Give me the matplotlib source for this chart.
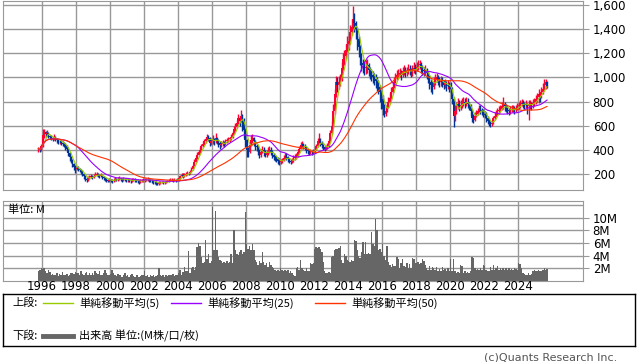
import matplotlib
matplotlib.use("Agg")
import matplotlib.pyplot as plt
import numpy as np
import pandas as pd

# monthly data, Oct 1995 .. Sep 2025
start_year, start_month = 1995, 10
first_open = 390

close = [
    410, 395, 430,
    520, 545, 530, 540, 515, 505, 495, 490, 505, 495, 480, 470,
    470, 460, 450, 440, 430, 405, 370, 340, 310, 280, 260, 240,
    250, 240, 230, 220, 200, 180, 160, 150, 165, 175, 180, 175,
    185, 195, 200, 190, 185, 190, 175, 165, 160, 150, 145, 150,
    145, 140, 150, 160, 155, 160, 165, 155, 150, 160, 155, 150,
    150, 145, 140, 150, 155, 150, 145, 140, 135, 140, 145, 150,
    150, 155, 160, 150, 145, 140, 135, 130, 125, 120, 125, 130,
    135, 130, 130, 135, 140, 145, 150, 150, 145, 150, 145, 150,
    165, 180, 195, 185, 190, 200, 210, 205, 220, 240, 270, 300,
    330, 360, 380, 400, 430, 450, 470, 490, 510, 500, 460, 470,
    480, 470, 500, 480, 460, 440, 450, 460, 450, 470, 480, 490,
    490, 510, 540, 570, 590, 620, 660, 640, 680, 650, 560, 480,
    400, 380, 440, 480, 500, 470, 430, 420, 400, 360, 380, 400,
    380, 360, 370, 390, 400, 380, 360, 340, 330, 320, 310, 300,
    300, 310, 330, 350, 340, 320, 310, 300, 310, 330, 340, 350,
    380, 410, 440, 450, 430, 420, 400, 390, 380, 390, 380, 390,
    400, 430, 470, 490, 460, 440, 420, 410, 420, 430, 470, 540,
    600, 720, 860, 960, 940, 960, 990, 1080, 1150, 1180, 1230, 1280,
    1300, 1380, 1420, 1480, 1450, 1400, 1320, 1250, 1180, 1120, 1100, 1080,
    1080, 1100, 1060, 1040, 1020, 1000, 990, 970, 950, 920, 880, 820,
    740, 700, 720, 760, 800, 830, 880, 920, 960, 1000, 1020, 1030,
    1040, 1020, 1050, 1060, 1040, 1050, 1070, 1060, 1040, 1060, 1080, 1070,
    1090, 1100, 1110, 1080, 1060, 1050, 1060, 1040, 1000, 960, 940, 920,
    960, 990, 1000, 980, 960, 970, 960, 940, 950, 930, 940, 920,
    900, 820, 680, 720, 760, 780, 760, 770, 790, 800, 790, 800,
    780, 760, 720, 660, 650, 680, 700, 720, 740, 730, 720, 700,
    690, 660, 640, 620, 610, 620, 660, 680, 700, 720, 730, 740,
    760, 780, 760, 740, 730, 720, 730, 740, 740, 730, 740, 760,
    770, 780, 790, 780, 770, 780, 760, 780, 780, 770, 790, 800,
    820, 840, 860, 850, 880, 900, 940, 960, 930,
]

high = [
    425, 420, 450,
    575, 570, 560, 565, 550, 525, 520, 510, 530, 515, 500, 490,
    490, 485, 475, 465, 455, 440, 410, 380, 350, 320, 290, 275,
    270, 265, 250, 245, 230, 210, 190, 175, 180, 195, 200, 195,
    200, 215, 220, 210, 200, 205, 195, 180, 175, 170, 160, 165,
    160, 155, 165, 175, 170, 175, 180, 170, 165, 175, 170, 165,
    165, 160, 155, 165, 170, 165, 160, 155, 150, 155, 160, 165,
    165, 170, 175, 165, 160, 155, 150, 145, 140, 135, 140, 145,
    145, 140, 140, 145, 150, 160, 165, 165, 160, 165, 160, 165,
    175, 195, 210, 205, 205, 215, 225, 220, 235, 255, 285, 320,
    345, 380, 400, 420, 450, 470, 490, 510, 535, 525, 505, 500,
    520, 500, 540, 510, 490, 470, 470, 480, 475, 490, 500, 510,
    510, 530, 560, 600, 620, 650, 700, 680, 730, 700, 660, 580,
    490, 420, 460, 520, 530, 510, 480, 450, 440, 410, 410, 430,
    420, 400, 395, 420, 430, 420, 395, 370, 360, 350, 340, 330,
    320, 335, 355, 375, 370, 350, 335, 325, 330, 355, 365, 375,
    400, 430, 465, 470, 460, 445, 425, 410, 400, 410, 400, 410,
    420, 450, 500, 540, 500, 470, 445, 430, 440, 455, 490, 565,
    640, 780, 900, 1010, 1000, 1010, 1030, 1130, 1200, 1230, 1280, 1340,
    1360, 1430, 1480, 1592, 1530, 1470, 1420, 1340, 1270, 1200, 1150, 1140,
    1140, 1150, 1120, 1090, 1070, 1050, 1040, 1030, 1000, 980, 940, 900,
    850, 780, 770, 800, 840, 870, 920, 960, 1000, 1040, 1060, 1070,
    1080, 1060, 1090, 1100, 1090, 1090, 1110, 1100, 1080, 1100, 1130, 1110,
    1130, 1140, 1145, 1130, 1100, 1090, 1100, 1080, 1050, 1020, 990, 970,
    1000, 1030, 1040, 1020, 1000, 1010, 1000, 980, 990, 970, 980, 960,
    960, 920, 840, 770, 800, 830, 810, 810, 830, 840, 830, 840,
    830, 800, 780, 740, 700, 710, 730, 750, 770, 770, 750, 740,
    720, 710, 680, 660, 640, 650, 680, 710, 730, 750, 760, 770,
    800, 840, 800, 780, 760, 750, 760, 770, 770, 760, 770, 790,
    800, 810, 820, 810, 800, 810, 790, 810, 810, 800, 820, 830,
    850, 870, 900, 880, 920, 950, 990, 990, 970,
]

low = [
    380, 385, 390,
    425, 500, 510, 515, 500, 490, 480, 470, 480, 475, 460, 450,
    450, 440, 430, 420, 400, 380, 350, 310, 290, 260, 230, 205,
    230, 225, 215, 200, 180, 160, 140, 130, 145, 155, 165, 160,
    170, 180, 185, 175, 170, 175, 160, 150, 145, 135, 130, 135,
    130, 125, 135, 145, 140, 145, 150, 140, 135, 145, 140, 135,
    135, 130, 125, 135, 140, 135, 130, 125, 120, 125, 130, 135,
    135, 140, 145, 135, 130, 125, 120, 115, 110, 108, 112, 118,
    122, 118, 120, 125, 130, 135, 140, 138, 135, 138, 135, 140,
    145, 160, 175, 170, 175, 185, 195, 190, 200, 215, 235, 265,
    295, 325, 355, 375, 395, 425, 440, 460, 480, 470, 430, 440,
    450, 440, 460, 450, 420, 410, 425, 435, 425, 440, 455, 465,
    465, 480, 500, 530, 555, 580, 610, 600, 630, 560, 500, 420,
    340, 340, 370, 430, 460, 430, 400, 390, 360, 330, 340, 370,
    350, 340, 340, 360, 375, 355, 330, 315, 305, 295, 285, 275,
    280, 290, 305, 325, 315, 300, 290, 285, 290, 300, 315, 320,
    340, 370, 400, 420, 410, 395, 375, 365, 355, 365, 360, 365,
    375, 395, 425, 460, 430, 415, 400, 390, 400, 410, 425, 465,
    530, 590, 700, 840, 880, 900, 930, 970, 1060, 1100, 1150, 1210,
    1230, 1280, 1350, 1400, 1380, 1320, 1230, 1170, 1100, 1050, 1040, 1020,
    1030, 1040, 1010, 990, 970, 950, 940, 910, 890, 860, 800, 740,
    690, 670, 680, 710, 750, 790, 820, 870, 910, 950, 980, 990,
    1000, 980, 1000, 1020, 1000, 1010, 1030, 1020, 1000, 1010, 1040, 1030,
    1050, 1060, 1070, 1040, 1020, 1010, 1020, 990, 950, 900, 880, 860,
    900, 940, 960, 940, 920, 930, 920, 900, 910, 890, 900, 880,
    870, 780, 590, 640, 700, 740, 720, 730, 750, 760, 750, 760,
    750, 730, 680, 630, 625, 640, 670, 690, 710, 700, 690, 670,
    660, 630, 610, 595, 590, 595, 615, 650, 670, 690, 700, 710,
    730, 740, 720, 710, 700, 690, 700, 710, 710, 700, 710, 730,
    740, 750, 760, 750, 740, 750, 700, 650, 740, 730, 750, 760,
    780, 800, 790, 800, 830, 860, 890, 900, 910,
]

# volume, millions
volume = [
    1.5, 1.8, 2.0,
    1.9, 2.0, 1.6, 1.2, 1.8, 1.4, 1.0, 1.1, 0.9, 1.0, 1.2, 0.8,
    1.1, 0.9, 1.4, 1.0, 0.9, 1.1, 0.8, 1.0, 1.2, 1.3, 1.1, 1.4,
    1.2, 1.3, 1.0, 1.6, 1.1, 0.9, 1.2, 1.4, 1.0, 1.2, 0.9, 1.3,
    1.0, 1.6, 1.2, 1.1, 1.5, 1.0, 0.9, 1.3, 1.7, 1.2, 0.9, 1.0,
    1.1, 1.8, 1.3, 1.0, 0.8, 1.1, 0.9, 1.0, 0.7, 0.9, 1.2, 0.8,
    0.9, 0.7, 1.0, 1.1, 0.8, 0.6, 0.9, 1.0, 0.7, 0.8, 0.9, 1.0,
    1.5, 0.8, 0.9, 0.7, 1.0, 0.8, 0.9, 0.7, 0.8, 1.0, 2.0, 0.9,
    0.8, 0.9, 0.7, 1.0, 0.8, 0.9, 1.0, 0.9, 1.1, 0.8, 1.0, 0.9,
    1.2, 1.8, 0.9, 1.4, 2.2, 1.5, 1.6, 4.8, 1.2, 2.0, 2.2, 1.7,
    2.2, 5.4, 6.0, 5.5, 3.8, 2.8, 3.0, 6.4, 3.5, 4.3, 2.8, 3.2,
    11.7, 4.9, 11.0, 4.9, 3.8, 3.3, 3.1, 2.8, 3.0, 2.9, 3.1, 2.8,
    3.0, 4.3, 2.9, 8.0, 4.9, 4.3, 4.1, 4.6, 4.9, 4.2, 4.5, 10.8,
    5.9, 5.0, 5.5, 4.9, 5.8, 4.9, 3.3, 3.0, 2.5, 3.1, 2.8, 4.6,
    3.0, 2.5, 2.8, 2.2, 3.0, 2.5, 2.2, 2.0, 1.8, 1.6, 1.8, 1.5,
    2.0, 1.7, 1.5, 1.8, 1.6, 1.7, 1.3, 1.5, 1.2, 0.9, 0.8, 2.0,
    2.2, 1.7, 3.3, 2.0, 1.7, 1.5, 2.0, 1.6, 1.5, 2.8, 2.7, 2.8,
    5.1, 5.4, 5.2, 5.3, 5.0, 4.5, 3.0, 1.5, 1.3, 1.2, 1.4, 1.2,
    3.8, 4.0, 4.9, 5.1, 5.0, 5.2, 5.5, 3.3, 2.8, 4.3, 4.0, 3.3,
    3.2, 3.0, 3.3, 3.1, 6.4, 6.3, 4.9, 4.0, 3.6, 4.5, 6.2, 4.3,
    6.2, 4.3, 4.4, 4.2, 7.7, 5.9, 5.5, 9.7, 8.0, 4.9, 5.0, 4.5,
    5.9, 4.0, 3.3, 5.5, 3.0, 2.5, 2.2, 2.6, 2.3, 2.4, 3.8, 3.5,
    2.0, 2.8, 3.4, 2.3, 2.2, 2.8, 2.0, 2.6, 2.1, 3.7, 3.4, 2.9,
    2.8, 3.0, 2.6, 2.8, 3.5, 3.2, 2.5, 2.0, 1.8, 2.3, 1.7, 2.2,
    2.0, 1.8, 2.2, 1.5, 1.9, 1.6, 2.2, 1.7, 1.9, 1.5, 2.0, 1.6,
    3.5, 1.6, 3.4, 1.5, 1.2, 1.4, 1.3, 2.5, 2.4, 1.3, 1.5, 1.2,
    1.4, 1.3, 1.5, 3.8, 3.6, 2.0, 1.7, 1.9, 1.8, 2.0, 1.7, 2.5,
    2.4, 1.7, 1.5, 1.6, 2.2, 1.8, 2.5, 1.7, 2.0, 2.3, 1.8, 2.0,
    1.7, 2.0, 1.8, 2.0, 1.7, 2.1, 1.8, 1.9, 1.7, 2.0, 1.9, 1.7,
    2.8, 2.7, 2.0, 1.2, 1.1, 1.0, 0.9, 1.2, 0.9, 1.1, 1.5, 1.7,
    1.6, 1.5, 1.7, 1.6, 1.5, 1.8, 2.0, 1.7, 1.9,
]

ma_periods = [5, 25, 50]
ma_colors = ['#99cc00', '#9900ff', '#ff3300']
ma_labels = ['単純移動平均(5)', '単純移動平均(25)', '単純移動平均(50)']
years = list(range(1996, 2025, 2))

JP = ['Noto Sans CJK JP', 'DejaVu Sans']
NUM = ['DejaVu Sans', 'Noto Sans CJK JP']

close = np.array(close, float)
high = np.array(high, float)
low = np.array(low, float)
volume = np.array(volume, float)
opn = np.r_[first_open, close[:-1]]
n = len(close)
t = start_year + (start_month - 1 + np.arange(n)) / 12 + 1 / 24

W, H = 638, 362
fig = plt.figure(figsize=(W / 100, H / 100), dpi=100)

def fx(px):
    return px / W

def fy(py):
    return 1 - py / H

grid_c = '#999999'
x0_yr, x1_yr = 1996 + (3 - 42) / 17, 1996 + (583 - 42) / 17

# price panel
ax = fig.add_axes([fx(3), fy(190), fx(580), fy(1) - fy(190)])
ax.set_xlim(x0_yr, x1_yr)
ax.set_ylim(67, 1633)
for y in range(200, 1601, 200):
    ax.axhline(y, color=grid_c, lw=1, zorder=0)
for yr in years:
    ax.axvline(yr, color=grid_c, lw=1, zorder=0)

up = close >= opn
cols = np.where(up, '#ff0033', '#003399')
ax.vlines(t, low, high, colors=cols, lw=1.0, zorder=2)
body = np.where(np.abs(close - opn) < 4, 4, close - opn)
ax.bar(t, body, bottom=opn, width=0.11, color=cols, lw=0, zorder=2)

s = pd.Series(close)
for p, c in zip(ma_periods, ma_colors):
    ax.plot(t, s.rolling(p, min_periods=1).mean(), color=c, lw=0.8, zorder=3)

ax.yaxis.tick_right()
ax.set_yticks(range(200, 1601, 200))
ax.set_yticklabels([f'{v:,}' for v in range(200, 1601, 200)], family=NUM, fontsize=8.5)
ax.tick_params(axis='y', length=4, color=grid_c, pad=3)
ax.set_xticks([])
for sp in ax.spines.values():
    sp.set_color(grid_c)

# volume panel
av = fig.add_axes([fx(3), fy(281), fx(580), fy(201) - fy(281)])
av.set_xlim(x0_yr, x1_yr)
av.set_ylim(0, 12.6)
for y in range(2, 13, 2):
    av.axhline(y, color=grid_c, lw=1, zorder=0)
for yr in years:
    av.axvline(yr, color=grid_c, lw=1, zorder=0)
av.bar(t, volume, width=1 / 12, color='#666666', lw=0, zorder=2, antialiased=False)
av.yaxis.tick_right()
av.set_yticks(range(2, 11, 2))
av.set_yticklabels([f'{v}M' for v in range(2, 11, 2)], family=NUM, fontsize=8.5)
av.tick_params(axis='y', length=4, color=grid_c, pad=3)
av.set_xticks([])
for sp in av.spines.values():
    sp.set_color(grid_c)
av.text(0.008, 0.96, '単位: M', transform=av.transAxes, ha='left', va='top',
        family=JP, fontsize=8, zorder=5)

# year labels under the volume panel
for yr in years:
    px = 3 + (yr - x0_yr) / (x1_yr - x0_yr) * 580
    fig.text(fx(px), fy(287), str(yr), ha='center', va='center',
             family=NUM, fontsize=8.5)

# legend box
lg = fig.add_axes([fx(3), fy(346), fx(632), fy(294) - fy(346)])
lg.set_xlim(0, 632)
lg.set_ylim(52, 0)
lg.set_xticks([])
lg.set_yticks([])
for sp in lg.spines.values():
    sp.set_color('black')
    sp.set_linewidth(1)
lg.text(9, 9, '上段:', family=JP, fontsize=8, va='center', ha='left')
for xs, c, lab in zip([40, 168, 312], ma_colors, ma_labels):
    lg.plot([xs, xs + 30], [9, 9], color=c, lw=1)
    lg.text(xs + 36, 9, lab, family=JP, fontsize=8, va='center', ha='left')
lg.text(9, 42, '下段:', family=JP, fontsize=8, va='center', ha='left')
lg.plot([40, 70], [42, 42], color='#666666', lw=3.5)
lg.text(76, 42, '出来高 単位:(M株/口/枚)', family=JP, fontsize=8, va='center', ha='left')

fig.text(fx(617), fy(357), '(c)Quants Research Inc.', ha='right', va='center',
         family=NUM, fontsize=8, color='#555555')

fig.savefig('out.png', dpi=100)
